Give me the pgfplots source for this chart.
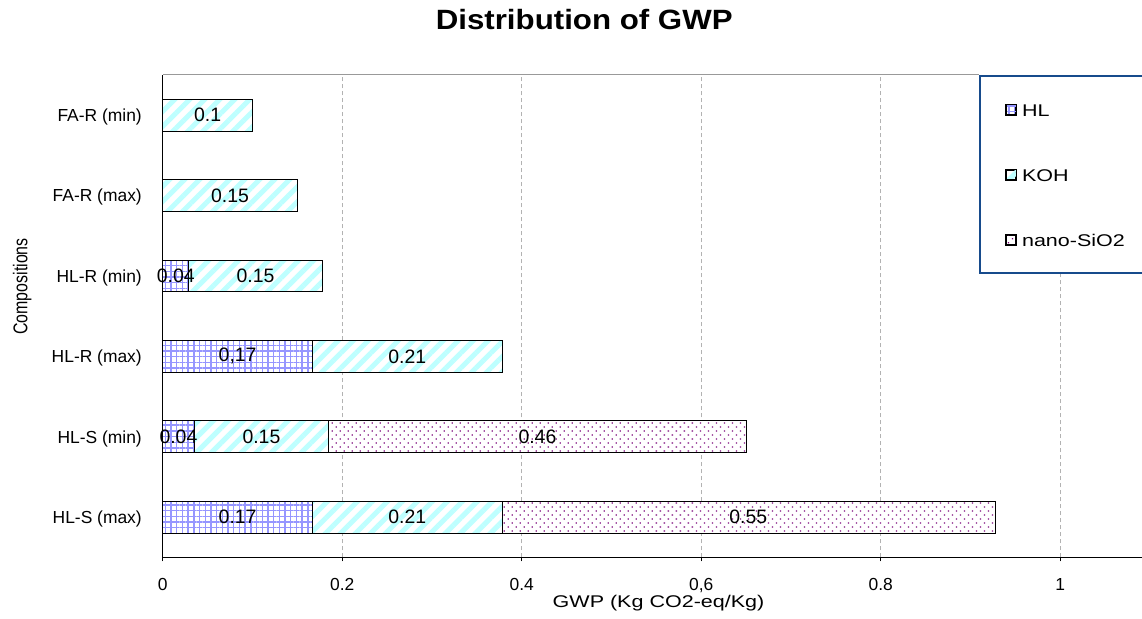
\documentclass[border=0pt]{standalone}
\usepackage{fontspec}
\setmainfont{Liberation Sans}
\newfontfamily\widefont{Liberation Sans}[FakeStretch=1.27]
\newfontfamily\titlefont{Liberation Sans}[FakeStretch=1.12]
\newfontfamily\ylabfont{Liberation Sans}[FakeStretch=0.8]
\usepackage{pgfplots}
\pgfplotsset{compat=1.18}
\usetikzlibrary{patterns.meta}

\definecolor{hlblue}{RGB}{150,150,255}
\definecolor{kohcyan}{RGB}{190,255,255}
\definecolor{sipurple}{RGB}{120,0,120}
\definecolor{legblue}{RGB}{23,75,140}

\pgfplotsset{
  gwpbox/.style={scale only axis, width=979.3bp, height=482.3bp,
    xmin=0, xmax=1.0911, ymin=-0.5, ymax=5.5,
    at={(0,0)}, anchor=south west, clip=false},
}

\begin{document}
\begin{tikzpicture}
\useasboundingbox (-162.7bp,-61.7bp) rectangle (979.3bp,557.3bp);

\begin{axis}[gwpbox,
  xbar stacked, bar width=0.395,
  axis x line*=bottom, axis y line*=left,
  axis line style={black, line width=1.2bp},
  xtick={0,0.2,0.4,0.6,0.8,1},
  xticklabels={0,0.2,0.4,{0,6},0.8,1},
  ytick={0,1,2,3,4,5},
  yticklabels={HL-S (max),HL-S (min),HL-R (max),HL-R (min),FA-R (max),FA-R (min)},
  tick align=outside, major tick length=4bp,
  xtick style={black, line width=1bp},
  ytick style={draw=none},
  xmajorgrids=true,
  major grid style={draw=black!30, line width=1bp, dash pattern=on 4bp off 3bp},
  /pgf/number format/assume math mode=true,
  xticklabel style={font=\fontsize{17.5}{17.5}\selectfont, anchor=base, inner sep=0pt, yshift=-28.7bp},
  yticklabel style={font=\fontsize{17.5}{17.5}\selectfont, anchor=base east, inner sep=0pt, xshift=-16.7bp, yshift=-6.3bp},
  title={Distribution of GWP},
  title style={at={(axis description cs:0.4304,1)}, anchor=base, yshift=40bp, inner sep=0pt,
    font=\titlefont\bfseries\fontsize{28}{28}\selectfont},
  xlabel={GWP (Kg CO2-eq/Kg)},
  xlabel style={at={(axis description cs:0.5063,0)}, anchor=base, yshift=-49.7bp, inner sep=0pt,
    font=\widefont\fontsize{17}{17}\selectfont},
  ylabel={Compositions},
  ylabel style={at={(axis description cs:-0.13806,0.5615)}, anchor=base, inner sep=0pt,
    font=\ylabfont\fontsize{20}{20}\selectfont},
  legend style={at={(axis description cs:0.8336,1)}, anchor=north west,
    draw=legblue, line width=2bp, inner xsep=25bp, inner ysep=26bp,
    row sep=50bp, column sep=4bp,
    font=\widefont\fontsize{17}{17}\selectfont,
    nodes={inner sep=1bp, text height=13bp, text depth=0bp},
    cells={anchor=west}},
  legend image code/.code={\draw[#1] (0bp,-5bp) rectangle (10bp,5bp);},
  after end axis/.code={\draw[black!40, line width=1bp] (rel axis cs:0,1) -- (rel axis cs:0.8336,1);},
]
% HL
\addplot[draw=none, fill=white,
  postaction={pattern={Hatch[angle=0,distance=5.7bp,line width=1.4bp]}, pattern color=hlblue,
    draw=black, line width=0.8bp}]
  coordinates {(0.167,0) (0.035,1) (0.167,2) (0.029,3) (0,4) (0,5)};
% KOH
\addplot[draw=none, fill=white,
  postaction={pattern={Lines[angle=45,distance=10.6bp,line width=5bp]}, pattern color=kohcyan,
    draw=black, line width=0.8bp}]
  coordinates {(0.211,0) (0.150,1) (0.211,2) (0.149,3) (0.150,4) (0.100,5)};
% nano-SiO2
\addplot[draw=none, fill=white,
  postaction={pattern={Dots[angle=45,distance=5.66bp,radius=0.9bp]}, pattern color=sipurple,
    draw=black, line width=0.8bp}]
  coordinates {(0.550,0) (0.465,1) (0,2) (0,3) (0,4) (0,5)};
\legend{HL,KOH,nano-SiO2}
\end{axis}

% data labels, centred in each segment
\begin{axis}[gwpbox, hide axis]
\addplot[draw=none, mark=none, nodes near coords, point meta=explicit symbolic,
  every node near coord/.append style={anchor=center, inner sep=0pt, text=black,
    font=\fontsize{19.5}{19.5}\selectfont}]
  table[meta=lab] {
x y lab
0.0835 0 0.17
0.2725 0 0.21
0.6525 0 0.55
0.0175 1 0.04
0.110 1 0.15
0.4175 1 0.46
0.0835 2 0,17
0.2725 2 0.21
0.0145 3 0.04
0.1035 3 0.15
0.075 4 0.15
0.05 5 0.1
};
\end{axis}
\end{tikzpicture}
\end{document}
